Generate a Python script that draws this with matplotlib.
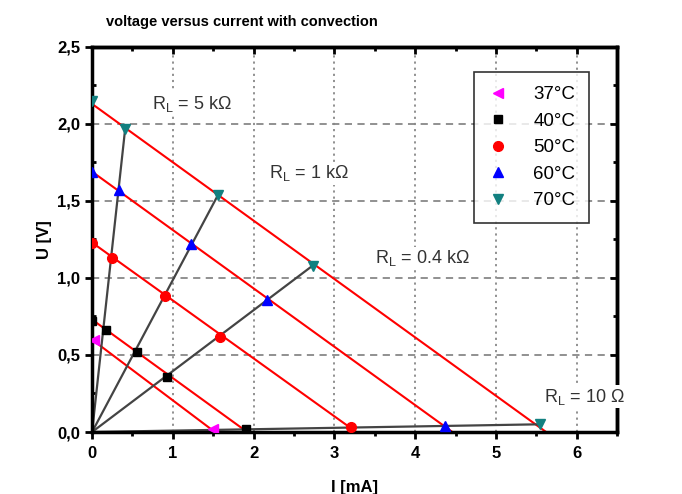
import matplotlib.pyplot as plt
from matplotlib.ticker import MultipleLocator, FuncFormatter

plt.rcParams['font.family'] = ['Liberation Sans', 'DejaVu Sans']

# measured points per temperature: current I [mA], voltage U [V]
temps = ['37°C', '40°C', '50°C', '60°C', '70°C']
I_37 = [0.03, 1.50]
U_37 = [0.60, 0.02]
I_40 = [0.00, 0.17, 0.55, 0.93, 1.90]
U_40 = [0.72, 0.66, 0.52, 0.36, 0.02]
I_50 = [0.00, 0.25, 0.90, 1.58, 3.21]
U_50 = [1.23, 1.13, 0.88, 0.62, 0.03]
I_60 = [0.00, 0.33, 1.23, 2.16, 4.37]
U_60 = [1.69, 1.57, 1.22, 0.86, 0.04]
I_70 = [0.00, 0.41, 1.56, 2.73, 5.54]
U_70 = [2.15, 1.97, 1.54, 1.08, 0.05]

# linear fits per temperature: open-circuit voltage and short-circuit current
fit_U0 = [0.60, 0.73, 1.23, 1.69, 2.13]
fit_I0 = [1.52, 1.92, 3.27, 4.46, 5.62]

# load lines (end point = 70°C measurement)
loads = ['5 k\u03a9', '1 k\u03a9', '0.4 k\u03a9', '10 \u03a9']
load_I = [0.41, 1.56, 2.73, 5.54]
load_U = [1.97, 1.54, 1.08, 0.05]

fig = plt.figure(figsize=(6.82, 4.94), dpi=100)
ax = fig.add_axes([0.135, 0.1255, 0.77, 0.7795])

ax.set_xlim(0, 6.5)
ax.set_ylim(0, 2.5)

# grid
for y in [0.5, 1.0, 1.5, 2.0]:
    ax.axhline(y, color='#888888', lw=1.3, ls=(0, (4, 3)), zorder=0)
for x in [1, 2, 3, 4, 5, 6]:
    ax.axvline(x, color='#888888', lw=1.3, ls=(0, (1.2, 2.2)), zorder=0)

# fit lines
for u0, i0 in zip(fit_U0, fit_I0):
    ax.plot([0, i0], [u0, 0], color='red', lw=1.5, zorder=2)

# load lines
for i1, u1 in zip(load_I, load_U):
    ax.plot([0, i1], [0, u1], color='#444444', lw=1.6, zorder=2)

ax.plot(I_37, U_37, ls='none', marker='<', color='magenta', ms=7, label=temps[0], zorder=3)
ax.plot(I_40, U_40, ls='none', marker='s', color='black', ms=6, label=temps[1], zorder=3)
ax.plot(I_50, U_50, ls='none', marker='o', color='red', ms=7, label=temps[2], zorder=3)
ax.plot(I_60, U_60, ls='none', marker='^', color='blue', ms=7, label=temps[3], zorder=3)
ax.plot(I_70, U_70, ls='none', marker='v', color='#128080', ms=7, label=temps[4], zorder=3)

# load labels
label_pos = [(0.74, 2.13), (2.19, 1.68), (3.5, 1.13), (5.6, 0.23)]
for (x, y), name in zip(label_pos, loads):
    ax.text(x, y, 'R$_\\mathregular{L}$ = ' + name, fontsize=13, color='#333333',
            va='center', zorder=4,
            bbox=dict(facecolor='white', edgecolor='none', pad=1.0))

ax.xaxis.set_major_locator(MultipleLocator(1))
ax.xaxis.set_minor_locator(MultipleLocator(0.5))
ax.yaxis.set_major_locator(MultipleLocator(0.5))
ax.yaxis.set_minor_locator(MultipleLocator(0.25))
ax.xaxis.set_major_formatter(FuncFormatter(lambda v, p: '%d' % v))
ax.yaxis.set_major_formatter(FuncFormatter(lambda v, p: ('%.1f' % v).replace('.', ',')))

ax.tick_params(axis='x', which='major', direction='out', length=5, width=2, pad=5)
ax.tick_params(axis='x', which='minor', direction='out', length=3, width=2)
ax.tick_params(axis='y', which='major', direction='out', length=5, width=2)
ax.tick_params(axis='y', which='minor', direction='in', length=3, width=2)
for lab in ax.get_xticklabels() + ax.get_yticklabels():
    lab.set_fontweight('bold')
    lab.set_fontsize(12)

top = ax.secondary_xaxis('top')
top.xaxis.set_major_locator(MultipleLocator(1))
top.xaxis.set_minor_locator(MultipleLocator(0.5))
top.tick_params(which='major', direction='in', length=5, width=2, labeltop=False)
top.tick_params(which='minor', direction='in', length=3, width=2)
right = ax.secondary_yaxis('right')
right.yaxis.set_major_locator(MultipleLocator(0.5))
right.yaxis.set_minor_locator(MultipleLocator(0.25))
right.tick_params(which='major', direction='in', length=5, width=2, labelright=False)
right.tick_params(which='minor', direction='in', length=3, width=2)

for sp in ax.spines.values():
    sp.set_linewidth(2.5)
top.spines['top'].set_linewidth(2.5)
right.spines['right'].set_linewidth(2.5)

ax.set_xlabel('I [mA]', fontsize=12, fontweight='bold', labelpad=14)
ax.set_ylabel('U [V]', fontsize=12, fontweight='bold')

leg = ax.legend(loc='upper left', bbox_to_anchor=(0.728, 0.935), fontsize=13.5,
                frameon=True, fancybox=False, edgecolor='black', handlelength=1.0,
                handletextpad=1.4, labelspacing=0.5, borderpad=0.75,
                borderaxespad=0)
leg.get_frame().set_linewidth(1.2)

fig.text(0.355, 0.955, 'voltage versus current with convection', ha='center',
         va='center', fontsize=10.5, fontweight='bold')

fig.savefig('out.png', dpi=100)
